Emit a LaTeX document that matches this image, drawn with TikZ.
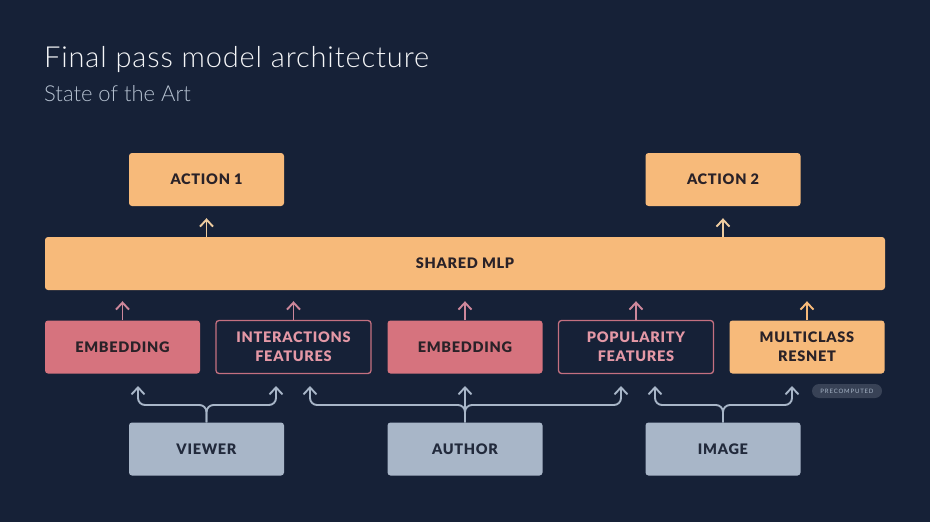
\documentclass[tikz,border=0pt]{standalone}
\usepackage{fontspec}
\setmainfont{Lato}
\newfontfamily\thinfont{Lato Light}
\newfontfamily\heavyfont{Lato Black}[LetterSpace=5]
\usetikzlibrary{arrows.meta,positioning}
\definecolor{bgnavy}{RGB}{22,33,55}
\definecolor{boxorange}{RGB}{247,186,122}
\definecolor{boxpink}{RGB}{214,115,126}
\definecolor{linepink}{RGB}{196,112,128}
\definecolor{textpink}{RGB}{228,152,166}
\definecolor{boxgray}{RGB}{168,182,200}
\definecolor{textdark}{RGB}{42,34,40}
\definecolor{textnavy}{RGB}{34,42,60}
\definecolor{arrowcream}{RGB}{238,204,160}
\definecolor{arrowpink}{RGB}{205,135,155}
\definecolor{pillgray}{RGB}{56,66,86}

\begin{document}
\begin{tikzpicture}[x=1pt,y=-1pt,
	box/.style={rounded corners=3pt, minimum width=155pt, minimum height=53pt, inner sep=0pt, align=center, font=\heavyfont\fontsize{14.5}{19}\selectfont},
	orangebox/.style={box, fill=boxorange, text=textdark},
	pinkbox/.style={box, fill=boxpink, text=textdark},
	featbox/.style={box, draw=linepink, line width=1.3pt, text=textpink},
	graybox/.style={box, fill=boxgray, text=textnavy},
	up/.style={-{Straight Barb[length=7pt,width=13pt]}, line width=1.9pt},
	creamup/.style={up, draw=arrowcream},
	pinkup/.style={up, draw=arrowpink},
	orangeup/.style={up, draw=boxorange},
	grayup/.style={up, draw=boxgray, rounded corners=7pt},
	]
	% Background
	\fill[bgnavy] (0,0) rectangle (930,522);
	
	% Title
	\node[anchor=base west, inner sep=0pt, text=white!88!boxgray, font=\thinfont\fontsize{29}{32}\selectfont\addfontfeatures{LetterSpace=3}] (title) at (44,67) {Final pass model architecture};
	\node[anchor=base west, inner sep=0pt, text=boxgray!85!white, font=\thinfont\fontsize{22}{24}\selectfont] (subtitle) at (44,101) {State of the Art};
	
	% Outputs
	\node[orangebox] (action1) at (206.5,179.5) {ACTION 1};
	\node[orangebox] (action2) at (723,179.5) {ACTION 2};
	\node[orangebox, minimum width=840pt] (mlp) at (465,263.5) {SHARED MLP};
	
	% Towers
	\node[pinkbox] (emb1) at (122.5,347) {EMBEDDING};
	\node[featbox] (inter) at (293.5,347) {INTERACTIONS\\FEATURES};
	\node[pinkbox] (emb2) at (465,347) {EMBEDDING};
	\node[featbox] (pop) at (636,347) {POPULARITY\\FEATURES};
	\node[orangebox] (resnet) at (807,347) {MULTICLASS\\RESNET};
	\node[fill=pillgray, rounded corners=7pt, minimum width=70pt, minimum height=14pt, inner sep=0pt, text=boxgray, font=\fontsize{6}{6}\selectfont\addfontfeatures{LetterSpace=14}] (pre) at (847,391) {PRECOMPUTED};
	
	% Inputs
	\node[graybox] (viewer) at (206.5,449) {VIEWER};
	\node[graybox] (author) at (465,449) {AUTHOR};
	\node[graybox] (image) at (723,449) {IMAGE};
	
	% Arrows into the actions
	\foreach \n in {action1, action2}
		\draw[creamup, shorten >=12pt] (\n |- mlp.north) -- (\n.south);
	
	% Arrows into the shared MLP
	\foreach \n/\s in {emb1/pinkup, inter/pinkup, emb2/pinkup, pop/pinkup, resnet/orangeup}
		\draw[\s, shorten >=11pt] (\n.north) -- (\n.north |- mlp.south);
	
	% Input fan-out
	\coordinate (bus) at (0,405);
	\coordinate (vA) at (138,386);
	\coordinate (vB) at (276,386);
	\coordinate (aA) at (310,386);
	\coordinate (aB) at (465,386);
	\coordinate (aC) at (621,386);
	\coordinate (iA) at (655,386);
	\coordinate (iB) at (792,386);
	\draw[grayup] (viewer.north) |- (vA |- bus) -- (vA);
	\draw[grayup] (viewer.north) |- (vB |- bus) -- (vB);
	\draw[grayup] (author.north) |- (aA |- bus) -- (aA);
	\draw[grayup] (author.north) -- (aB);
	\draw[grayup] (author.north) |- (aC |- bus) -- (aC);
	\draw[grayup] (image.north) |- (iA |- bus) -- (iA);
	\draw[grayup] (image.north) |- (iB |- bus) -- (iB);
\end{tikzpicture}
\end{document}
